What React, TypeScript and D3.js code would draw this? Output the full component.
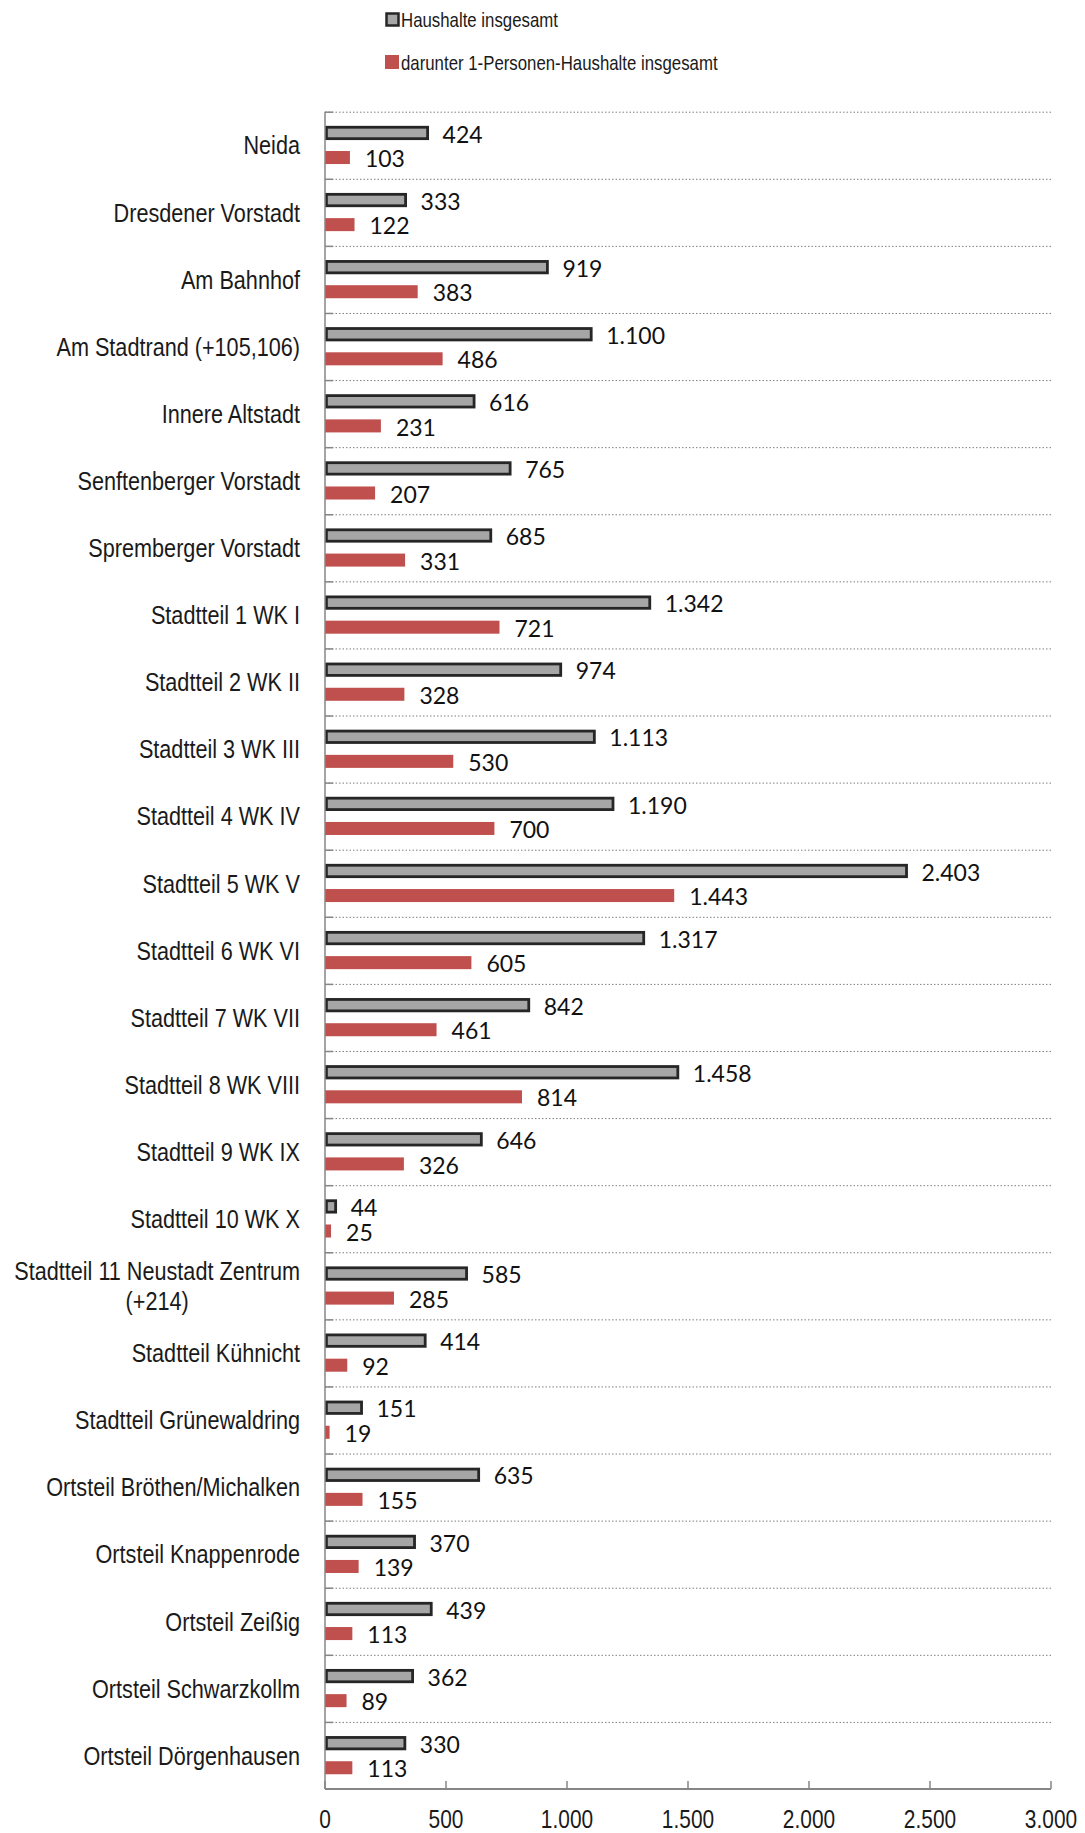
import React, { useEffect, useRef } from 'react';
import * as d3 from 'd3';

const categories = [
  'Neida',
  'Dresdener Vorstadt',
  'Am Bahnhof',
  'Am Stadtrand (+105,106)',
  'Innere Altstadt',
  'Senftenberger Vorstadt',
  'Spremberger Vorstadt',
  'Stadtteil 1 WK I',
  'Stadtteil 2 WK II',
  'Stadtteil 3 WK III',
  'Stadtteil 4 WK IV',
  'Stadtteil 5 WK V',
  'Stadtteil 6 WK VI',
  'Stadtteil 7 WK VII',
  'Stadtteil 8 WK VIII',
  'Stadtteil 9 WK IX',
  'Stadtteil 10 WK X',
  'Stadtteil 11 Neustadt Zentrum|(+214)',
  'Stadtteil Kühnicht',
  'Stadtteil Grünewaldring',
  'Ortsteil Bröthen/Michalken',
  'Ortsteil Knappenrode',
  'Ortsteil Zeißig',
  'Ortsteil Schwarzkollm',
  'Ortsteil Dörgenhausen',
];

const haushalte = [424, 333, 919, 1100, 616, 765, 685, 1342, 974, 1113, 1190, 2403, 1317, 842, 1458, 646, 44, 585, 414, 151, 635, 370, 439, 362, 330];
const einPersonen = [103, 122, 383, 486, 231, 207, 331, 721, 328, 530, 700, 1443, 605, 461, 814, 326, 25, 285, 92, 19, 155, 139, 113, 89, 113];

const seriesNames = ['Haushalte insgesamt', 'darunter 1-Personen-Haushalte insgesamt'];
const xTicks = [0, 500, 1000, 1500, 2000, 2500, 3000];

// Arial Narrow look-alike: Liberation Sans squeezed horizontally
const labelFont = '"Liberation Sans", Arial, sans-serif';
const squeeze = 0.82;
const valueFont = 'Lato, Carlito, sans-serif';

const de = d3.formatLocale({ decimal: ',', thousands: '.', grouping: [3], currency: ['', ' €'] });
const fmt = de.format(',d');

type G = d3.Selection<SVGGElement, unknown, null, undefined>;

function narrowText(g: G, x: number, y: number, txt: string, size: number, anchor = 'start') {
  return g.append('text')
    .attr('transform', `translate(${x},${y}) scale(${squeeze},1)`)
    .attr('dy', '0.35em')
    .attr('text-anchor', anchor)
    .attr('font-family', labelFont)
    .attr('font-size', size)
    .attr('fill', '#1a1a1a')
    .text(txt);
}

export default function App() {
  const svgRef = useRef<SVGSVGElement>(null);

  useEffect(() => {
    document.body.style.margin = '0';
    if (!svgRef.current) return;
    const svg = d3.select(svgRef.current);
    svg.selectAll('*').remove();

    const width = 1085;
    const height = 1833;
    const margin = { top: 111.7, left: 325, right: 34 };
    const plotBottom = 1789;

    svg.attr('width', width).attr('height', height);

    const x = d3.scaleLinear().domain([0, 3000]).range([margin.left, width - margin.right]);
    const y = d3.scaleBand<string>().domain(categories).range([margin.top, plotBottom]);
    const inner = d3.scaleBand<string>().domain(['h', 'e']).range([0, y.bandwidth()]).paddingInner(0.47).paddingOuter(0.6);

    // legend
    const legend = svg.append('g') as unknown as G;
    seriesNames.forEach((name, i) => {
      const ly = 20 + i * 43;
      if (i === 0) {
        legend.append('rect').attr('x', 386.5).attr('y', ly - 6.5).attr('width', 12).attr('height', 12)
          .attr('fill', '#a6a6a6').attr('stroke', '#262626').attr('stroke-width', 2.5);
      } else {
        legend.append('rect').attr('x', 385).attr('y', ly - 8).attr('width', 14).attr('height', 14)
          .attr('fill', '#c0504d');
      }
      narrowText(legend, 401, ly, name, 20.5);
    });

    // grid lines (dotted) at band boundaries
    const bounds = categories.map(c => y(c)!);
    svg.append('g').selectAll('line').data(bounds).join('line')
      .attr('x1', x(0)).attr('x2', x(3000))
      .attr('y1', d => d + 0.5).attr('y2', d => d + 0.5)
      .attr('stroke', '#7f7f7f').attr('stroke-width', 1).attr('stroke-dasharray', '1.5,2');

    // small ticks on category axis
    svg.append('g').selectAll('line').data(bounds).join('line')
      .attr('x1', x(0)).attr('x2', x(0) + 8)
      .attr('y1', d => d + 0.5).attr('y2', d => d + 0.5)
      .attr('stroke', '#868686').attr('stroke-width', 1.5);

    // bars
    const rows = categories.map((c, i) => ({ c, h: haushalte[i], e: einPersonen[i] }));
    const bw = inner.bandwidth();
    const sw = 2.8;

    svg.append('g').selectAll('rect').data(rows).join('rect')
      .attr('x', x(0) + sw / 2)
      .attr('y', d => y(d.c)! + inner('h')! - 0.6 + sw / 2)
      .attr('width', d => Math.max(0, x(d.h) - x(0) - sw / 2))
      .attr('height', bw + 1.2 - sw)
      .attr('fill', '#a6a6a6').attr('stroke', '#262626').attr('stroke-width', sw);

    svg.append('g').selectAll('rect').data(rows).join('rect')
      .attr('x', x(0))
      .attr('y', d => y(d.c)! + inner('e')!)
      .attr('width', d => x(d.e) - x(0))
      .attr('height', bw)
      .attr('fill', '#c0504d');

    // value labels
    svg.append('g').selectAll('text').data(rows).join('text')
      .attr('x', d => x(d.h) + 15)
      .attr('y', d => y(d.c)! + inner('h')! + bw / 2)
      .attr('dy', '0.42em')
      .attr('font-family', valueFont).attr('font-size', 23).attr('fill', '#111')
      .text(d => fmt(d.h));

    svg.append('g').selectAll('text').data(rows).join('text')
      .attr('x', d => x(d.e) + 15)
      .attr('y', d => y(d.c)! + inner('e')! + bw / 2)
      .attr('dy', '0.42em')
      .attr('font-family', valueFont).attr('font-size', 23).attr('fill', '#111')
      .text(d => fmt(d.e));

    // category labels
    const labelX = 300;
    const catG = svg.append('g') as unknown as G;
    categories.forEach(c => {
      const cy = y(c)! + y.bandwidth() / 2;
      const lines = c.split('|');
      if (lines.length === 1) {
        narrowText(catG, labelX, cy, c, 26.4, 'end');
      } else {
        const first = narrowText(catG, labelX, cy - 15, lines[0], 26.4, 'end');
        const w = (first.node() as SVGTextElement).getComputedTextLength() * squeeze;
        narrowText(catG, labelX - w / 2, cy + 15, lines[1], 26.4, 'middle');
      }
    });

    // left axis line
    svg.append('line').attr('x1', x(0)).attr('x2', x(0)).attr('y1', margin.top).attr('y2', plotBottom)
      .attr('stroke', '#868686').attr('stroke-width', 1.5);

    // bottom axis
    const axisG = svg.append('g') as unknown as G;
    axisG.append('line').attr('x1', x(0)).attr('x2', x(3000)).attr('y1', plotBottom).attr('y2', plotBottom)
      .attr('stroke', '#868686').attr('stroke-width', 2);
    axisG.selectAll('line.tick').data(xTicks).join('line').attr('class', 'tick')
      .attr('x1', d => x(d)).attr('x2', d => x(d))
      .attr('y1', plotBottom - 8).attr('y2', plotBottom)
      .attr('stroke', '#868686').attr('stroke-width', 1.5);
    xTicks.forEach(t => narrowText(axisG, x(t), 1819, fmt(t), 25.5, 'middle'));
  }, []);

  return (
    <div>
      <svg ref={svgRef} style={{ display: 'block' }} />
    </div>
  );
}
